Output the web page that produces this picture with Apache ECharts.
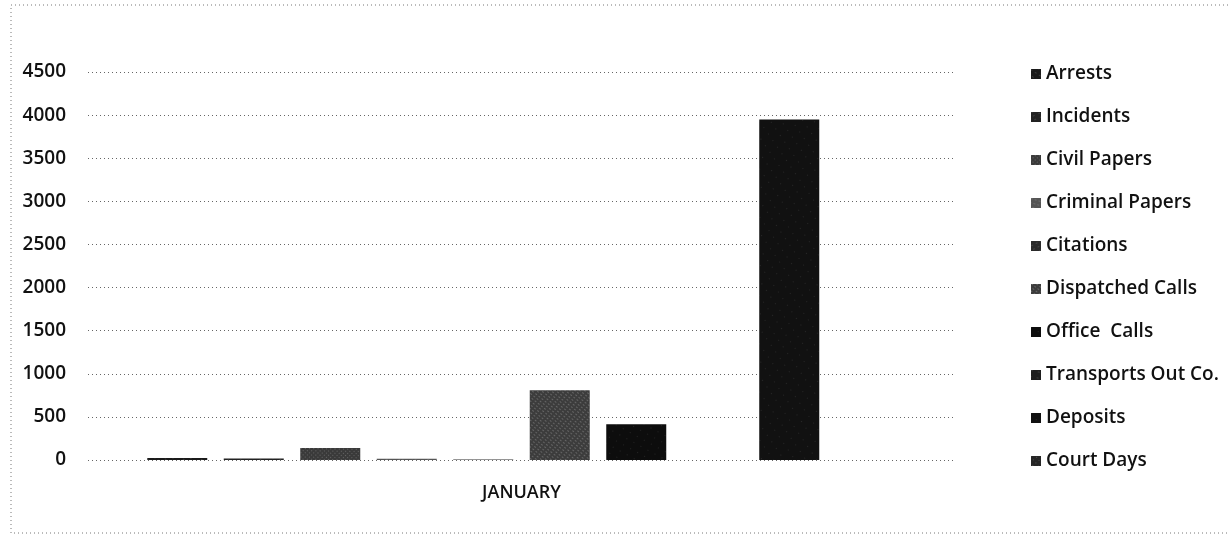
<!DOCTYPE html>
<html>
<head>
<meta charset="utf-8">
<script src="https://cdn.jsdelivr.net/npm/echarts@6/dist/echarts.min.js"></script>
<style>
  html, body { margin: 0; padding: 0; background: #fff; }
  #chart { width: 1230px; height: 539px; }
</style>
</head>
<body>
<div id="chart"></div>
<script>
// Monthly activity report
const categories = ['JANUARY'];
const seriesNames = ['Arrests', 'Incidents', 'Civil Papers', 'Criminal Papers', 'Citations',
  'Dispatched Calls', 'Office  Calls', 'Transports Out Co.', 'Deposits', 'Court Days'];
const seriesValues = [[22], [18], [140], [15], [6], [810], [415], [0], [3950], [0]];
const yTicks = [0, 500, 1000, 1500, 2000, 2500, 3000, 3500, 4000, 4500];

// dark fills with speckle textures, like a photocopied printout
const fills = ['#1a1a1a', '#222', '#3a3a3a', '#555', '#2a2a2a', '#3c3c3c', '#0d0d0d', '#1e1e1e', '#111', '#262626'];
const speckle = [
  { symbol: 'rect', symbolSize: 0.5, color: 'rgba(255,255,255,0.55)', dashArrayX: [2, 3], dashArrayY: [1, 4], rotation: 0.6 },
  { symbol: 'rect', symbolSize: 0.5, color: 'rgba(255,255,255,0.5)', dashArrayX: [2, 4], dashArrayY: [1, 3], rotation: -0.4 },
  { symbol: 'rect', symbolSize: 0.6, color: 'rgba(255,255,255,0.75)', dashArrayX: [1, 2], dashArrayY: [1, 2], rotation: 0.8 },
  { symbol: 'rect', symbolSize: 0.5, color: 'rgba(255,255,255,0.6)', dashArrayX: [2, 2], dashArrayY: [1, 3], rotation: 0.3 },
  { symbol: 'rect', symbolSize: 0.5, color: 'rgba(255,255,255,0.5)', dashArrayX: [1, 3], dashArrayY: [2, 3], rotation: 1.1 },
  { symbol: 'rect', symbolSize: 0.6, color: 'rgba(255,255,255,0.7)', dashArrayX: [1, 2], dashArrayY: [2, 2], rotation: -0.9 },
  { symbol: 'circle', symbolSize: 0.5, color: 'rgba(255,255,255,0.55)', dashArrayX: [1, 7], dashArrayY: [1, 6], rotation: 0.5 },
  { symbol: 'rect', symbolSize: 0.5, color: 'rgba(255,255,255,0.5)', dashArrayX: [2, 5], dashArrayY: [1, 5], rotation: 0.2 },
  { symbol: 'circle', symbolSize: 0.5, color: 'rgba(255,255,255,0.55)', dashArrayX: [1, 8], dashArrayY: [1, 7], rotation: -0.6 },
  { symbol: 'rect', symbolSize: 0.6, color: 'rgba(255,255,255,0.6)', dashArrayX: [1, 3], dashArrayY: [1, 3], rotation: 0.9 }
];

const fontFamily = '"Open Sans", "Noto Sans", sans-serif';
const chart = echarts.init(document.getElementById('chart'), null, { renderer: 'canvas' });

chart.setOption({
  backgroundColor: '#fff',
  animation: false,
  textStyle: { fontFamily: fontFamily, color: '#111' },
  graphic: [{
    type: 'rect',
    shape: { x: 11, y: 5, width: 1240, height: 528 },
    style: { fill: 'none', stroke: '#777', lineWidth: 1, lineDash: [1, 3] },
    silent: true
  }],
  grid: { left: 88, right: 275, top: 72, bottom: 79 },
  legend: {
    orient: 'vertical',
    left: 1026,
    top: 59,
    itemWidth: 10,
    itemHeight: 10,
    itemGap: 23,
    icon: 'rect',
    data: seriesNames,
    textStyle: { fontFamily: fontFamily, fontSize: 19, fontWeight: 600, lineHeight: 20, color: '#111', padding: [0, 0, 0, 0] }
  },
  xAxis: {
    type: 'category',
    data: categories,
    axisLine: { show: false },
    axisTick: { show: false },
    axisLabel: { fontFamily: fontFamily, fontSize: 18, fontWeight: 600, color: '#111', margin: 24 }
  },
  yAxis: {
    type: 'value',
    min: yTicks[0],
    max: yTicks[yTicks.length - 1],
    interval: yTicks[1] - yTicks[0],
    axisLine: { show: false },
    axisTick: { show: false },
    axisLabel: {
      fontFamily: fontFamily, fontSize: 19, fontWeight: 600, color: '#111', margin: 22,
      formatter: v => String(v)
    },
    splitLine: { lineStyle: { type: [1, 3], color: '#666', width: 1 } }
  },
  series: seriesNames.map((name, i) => ({
    name: name,
    type: 'bar',
    data: seriesValues[i],
    barWidth: 60,
    barGap: '27.5%',
    itemStyle: { color: fills[i], decal: speckle[i] }
  }))
});
</script>
</body>
</html>
